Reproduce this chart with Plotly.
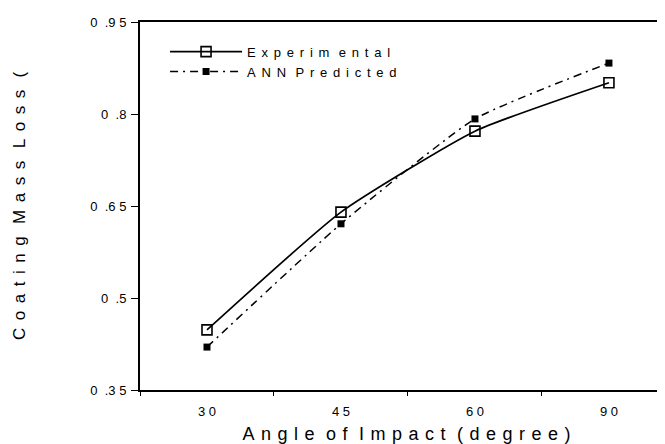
import plotly.graph_objects as go

angles = ["30", "45", "60", "90"]
angle_labels = ["3\u00a00", "4\u00a05", "6\u00a00", "9\u00a00"]
experimental = [0.448, 0.640, 0.772, 0.851]
ann_predicted = [0.420, 0.621, 0.792, 0.883]
y_ticks = [0.35, 0.5, 0.65, 0.8, 0.95]
y_tick_labels = ["0\u00a0\u00a0.3\u00a05", "0\u00a0\u00a0.5", "0\u00a0\u00a0.6\u00a05",
                 "0\u00a0\u00a0.8", "0\u00a0\u00a0.9\u00a05"]

FONT = "Liberation Sans, Arial, sans-serif"
G = "\u00a0\u2006"   # letter gap
W = G + "\u00a0"     # word gap


def spaced(words, gap=G, wgap=W):
    return wgap.join(gap.join(w) for w in words)


name_exp = G.join("Experim") + W + G.join("ental")
name_ann = spaced(["ANN", "Predicted"])
x_title = spaced(["Angle", "of", "Impact", "(degree)"], gap="\u00a0\u200a", wgap="\u00a0\u200a\u00a0")
y_title = spaced(["Coating", "Mass", "Loss", "("])

fig = go.Figure()
fig.add_trace(go.Scatter(
    x=angles, y=experimental, mode="lines+markers", name=name_exp,
    line=dict(color="black", width=1.7, shape="spline", smoothing=0.5),
    marker=dict(symbol="square-open", size=10, color="black", line=dict(width=1.6)),
))
fig.add_trace(go.Scatter(
    x=angles, y=ann_predicted, mode="lines+markers", name=name_ann,
    line=dict(color="black", width=1.5, dash="8px,5px,2px,5px", shape="spline", smoothing=0.5),
    marker=dict(symbol="square", size=7, color="black"),
))

fig.update_layout(
    width=665, height=444,
    margin=dict(l=132, r=0, t=14, b=62),
    paper_bgcolor="white", plot_bgcolor="white",
    font=dict(family=FONT, color="black", size=12),
    showlegend=True,
    legend=dict(
        x=0.047, y=0.96, xanchor="left", yanchor="top",
        bgcolor="rgba(0,0,0,0)", font=dict(size=13, family=FONT),
        itemwidth=72,
    ),
    xaxis=dict(
        type="category", categoryorder="array", categoryarray=angles,
        range=[-0.5, 3.478], automargin=False,
        tickmode="array", tickvals=angles, ticktext=angle_labels,
        tickson="boundaries", ticks="outside", ticklen=4, tickwidth=1, tickcolor="black",
        showline=True, linecolor="black", linewidth=2, mirror=True,
        showgrid=False, zeroline=False,
        tickfont=dict(size=13), ticklabelstandoff=8,
        title=dict(text=x_title, font=dict(size=18), standoff=10),
    ),
    yaxis=dict(
        range=[0.35, 0.95], automargin=False,
        tickmode="array", tickvals=y_ticks, ticktext=y_tick_labels,
        ticks="outside", ticklen=7, tickwidth=1, tickcolor="black",
        showline=True, linecolor="black", linewidth=2,
        showgrid=False, zeroline=False,
        tickfont=dict(size=13), ticklabelstandoff=2,
        title=dict(text=y_title, font=dict(size=17), standoff=60),
    ),
)

fig.write_html("out.html")
